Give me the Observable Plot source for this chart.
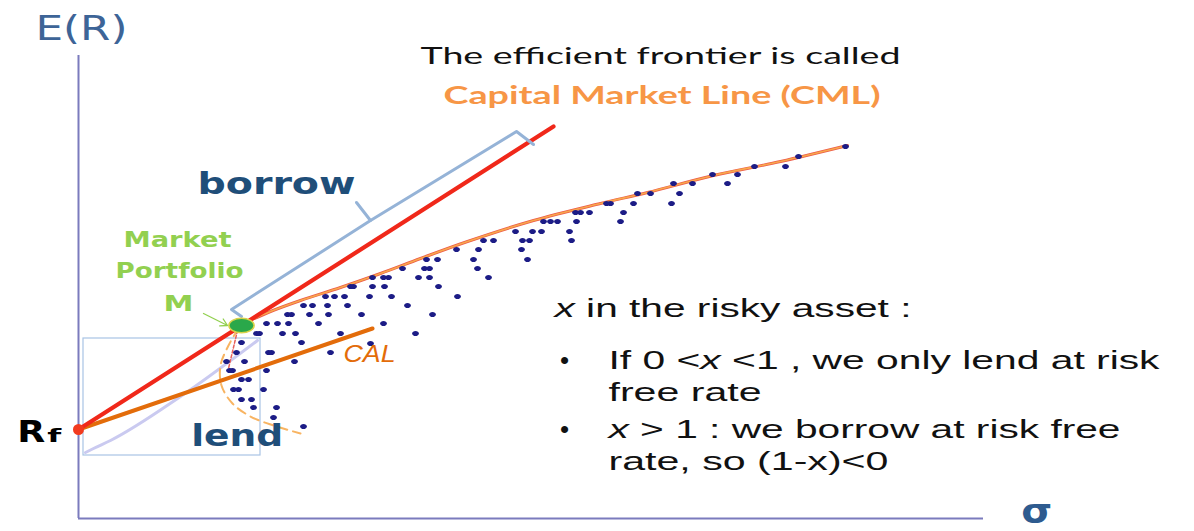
<!DOCTYPE html>
<html><head><meta charset="utf-8">
<script src="https://cdn.jsdelivr.net/npm/d3@7"></script>
<script src="https://cdn.jsdelivr.net/npm/@observablehq/plot@0.6"></script>
<style>html,body{margin:0;padding:0;background:#fff;}#chart{width:1194px;height:531px;overflow:hidden}</style>
</head><body><div id="chart"></div>
<script>
// ---- data (sigma = risk, ret = expected return) ----
const riskFree = 8.9;
const marketSigma = [16.3];
const marketReturn = [19.3];

const portfolioSigma = [16.3,15.8,14.8,16.6,15.1,15.4,16.3,17.0,15.5,16.0,18.5,16.3,17.3,17.5,19.8,19.5,22.5,19.0,19.3,21.6,18.8,17.8,18.1,20.4,21.7,22.3,18.8,19.9,21.0,24.0,20.9,21.3,23.1,22.5,23.4,
32.4,29.4,30.5,31.0,34.0,27.2,27.5,29.4,30.6,24.7,25.6,26.6,29.1,31.3,24.9,26.9,32.9,25.0,28.3,30.5,26.2,33.7,29.2,25.2,36.0,37.9,35.4,35.1,41.0,34.8,35.9,39.5,44.9,34.6,35.1,39.9,37.8,40.0,44.3,40.5,41.5,44.4,45.1,49.3,43.7,45.4,46.3,49.1,46.5,47.2,47.9,49.8,49.7,50.2,51.1,
76.7,72.0,70.7,67.6,65.9,63.4,64.9,61.4,59.5,60.1,59.3,57.2,55.9,55.5,54.5,54.2,53.2,52.8];
const portfolioReturn = [17.6,16.6,15.7,15.7,14.8,14.8,13.9,13.9,12.9,12.9,12.9,11.9,11.9,11.1,11.1,10.1,9.2,16.6,16.6,15.7,14.8,18.5,18.5,18.5,18.5,17.6,19.5,19.5,19.5,19.5,20.4,20.4,20.4,21.3,21.3,
25.0,24.1,24.1,24.1,24.1,23.2,23.2,23.2,23.2,22.2,22.2,22.2,22.2,22.2,21.3,21.3,21.3,20.4,20.4,19.5,18.5,18.5,17.5,16.6,23.2,22.2,20.4,24.1,24.1,25.9,25.9,25.9,25.9,25.0,25.0,25.0,26.9,26.9,26.9,27.8,27.8,27.8,27.8,27.8,28.7,28.7,28.7,28.7,29.7,29.7,29.7,29.7,30.6,30.6,30.6,
37.2,36.2,35.2,35.2,34.4,34.4,33.5,33.5,33.5,32.5,31.5,32.5,32.5,31.5,30.6,29.7,31.5,31.5];

const frontierSigma = [16.7,19.2,22.2,26.2,30.2,34.2,38.9,45.5,52.2,56.9,63.5,70.2,76.9];
const frontierReturn = [19.6,20.7,21.8,23.1,24.5,26.0,27.7,29.8,31.5,32.6,34.3,35.7,37.3];
const lowerSigma = [16.0,15.0,14.2,14.3,15.4,17.2,19.5,22.2];
const lowerReturn = [19.0,17.3,15.3,13.3,11.5,10.2,9.3,8.5];
const innerSigma = [15.9,15.0];
const innerReturn = [18.8,15.0];

const cmlSigma = [0, 47.5];
const cmlReturn = [8.9, 39.2];
const calSigma = [0, 29.4];
const calReturn = [8.9, 19.0];
const paleSigma = [0.7,1.5,3.2,10.2,17.9];
const paleReturn = [6.6,7.0,7.8,12.2,17.8];

const lendBox = [{x1: 0.5, x2: 18.2, y1: 6.3, y2: 18.0}];
const braceSigma = [16.3,15.3,29.2,27.8, 29.2,43.8,45.5];
const braceReturn = [20.2,20.9,29.8,31.6, 29.8,38.7,37.4];
const bracePart = ["a","a","a","a","b","b","b"];
const arrowFrom = [12.5, 20.5];
const arrowTo = [14.9, 19.3];
const axisTop = 46.3;
const axisRight = 90.5;

// ---- annotations ----
const axisTitleY = [{text: "E(R)", x: -4.3, y: 47.85}];
const axisTitleX = [{text: "σ", x: 94.27, y: -0.4}];
const headline1 = [{text: "The efficient frontier is called", x: 58.2, y: 45.47}];
const headline2 = [{text: "Capital Market Line (CML)", x: 58.35, y: 41.47}];
const regionLabels = [{text: "borrow", x: 11.9, y: 32.47}, {text: "lend", x: 11.27, y: 7.3}];
const marketLabels = [{text: "Market", x: 9.9, y: 27.13}, {text: "Portfolio", x: 10.1, y: 24.07}, {text: "M", x: 10.0, y: 20.8}];
const calLabel = [{text: "CAL", x: 26.5, y: 15.63}];
const rfMain = [{text: "R", x: -6.13, y: 7.63}];
const rfSub = [{text: "f", x: -3.13, y: 7.63}];
const notes = [
  {text: "*x* in the risky asset :", x: 47.6, y: 20.2},
  {text: "If 0 <*x* <1 , we only lend at risk", x: 53.0, y: 15.0},
  {text: "free rate", x: 53.0, y: 11.8},
  {text: "*x* > 1 : we borrow at risk free", x: 53.0, y: 8.1},
  {text: "rate, so (1-x)<0", x: 53.0, y: 4.9}
];
const bullets = [{text: "•", x: 48.6, y: 15.0}, {text: "•", x: 48.6, y: 8.1}];

const textWidths = {
  "E(R)": 92, "σ": 31, "The efficient frontier is called": 480, "Capital Market Line (CML)": 437,
  "borrow": 158, "lend": 92, "Market": 108, "Portfolio": 128, "M": 30, "CAL": 52, "R": 28, "f": 14,
  "*x* in the risky asset :": 357, "If 0 <*x* <1 , we only lend at risk": 551, "free rate": 153,
  "*x* > 1 : we borrow at risk free": 512, "rate, so (1-x)<0": 280
};

// ---- helpers ----
const pts = (xs, ys) => xs.map((x, i) => ({x, y: ys[i]}));
function ellipse(f) {
  return {draw(ctx, size) {
    const r = Math.sqrt(size / Math.PI), rx = r * f, ry = r, k = 0.5523;
    ctx.moveTo(rx, 0);
    ctx.bezierCurveTo(rx, ry * k, rx * k, ry, 0, ry);
    ctx.bezierCurveTo(-rx * k, ry, -rx, ry * k, -rx, 0);
    ctx.bezierCurveTo(-rx, -ry * k, -rx * k, -ry, 0, -ry);
    ctx.bezierCurveTo(rx * k, -ry, rx, -ry * k, rx, 0);
    ctx.closePath();
  }};
}
const txt = (rows, o) => Plot.text(rows, {x: "x", y: "y", text: "text", lineAnchor: "bottom", textAnchor: "start", ...o});

const chart = Plot.plot({
  width: 1194, height: 531, margin: 0,
  x: {domain: [-7.8, 111.6], axis: null},
  y: {domain: [-1.3, 51.8], axis: null},
  style: {background: "#fff", overflow: "visible"},
  marks: [
    Plot.ruleX([0], {y1: 0, y2: axisTop, stroke: "#7b7bbd", strokeWidth: 2}),
    Plot.ruleY([0], {x1: 0, x2: axisRight, stroke: "#7b7bbd", strokeWidth: 2}),
    Plot.rect(lendBox, {x1: "x1", x2: "x2", y1: "y1", y2: "y2", fill: "none", stroke: "#a8c4e4", strokeWidth: 1.2}),
    Plot.line(pts(paleSigma, paleReturn), {x: "x", y: "y", stroke: "#cacaf0", strokeWidth: 3, curve: "monotone-x"}),
    Plot.line(pts(lowerSigma, lowerReturn), {x: "x", y: "y", stroke: "#f8b462", strokeWidth: 2, strokeDasharray: "9,6", curve: "catmull-rom"}),
    Plot.line(pts(innerSigma, innerReturn), {x: "x", y: "y", stroke: "#e8605a", strokeWidth: 1.5, strokeDasharray: "3,2"}),
    Plot.line(pts(frontierSigma, frontierReturn), {x: "x", y: "y", stroke: "#ec5a48", strokeWidth: 3, curve: "catmull-rom"}),
    Plot.line(pts(frontierSigma, frontierReturn), {x: "x", y: "y", stroke: "#f8a84c", strokeWidth: 1.6, curve: "catmull-rom"}),
    Plot.dot(pts(portfolioSigma, portfolioReturn), {x: "x", y: "y", r: 2.6, symbol: ellipse(1.3), fill: "#1c1c86", stroke: "none"}),
    Plot.line(pts(calSigma, calReturn), {x: "x", y: "y", stroke: "#e36c0a", strokeWidth: 4}),
    Plot.line(pts(cmlSigma, cmlReturn), {x: "x", y: "y", stroke: "#f0281a", strokeWidth: 4.2}),
    Plot.line(braceSigma.map((x, i) => ({x, y: braceReturn[i], z: bracePart[i]})), {x: "x", y: "y", z: "z", stroke: "#95b3d7", strokeWidth: 3, strokeLinejoin: "round"}),
    Plot.arrow([{x1: arrowFrom[0], y1: arrowFrom[1], x2: arrowTo[0], y2: arrowTo[1]}], {x1: "x1", y1: "y1", x2: "x2", y2: "y2", stroke: "#92d050", strokeWidth: 1.3, headLength: 9}),
    Plot.dot(pts(marketSigma, marketReturn), {x: "x", y: "y", r: 7.2, symbol: ellipse(1.75), fill: "#2aa84a", stroke: "#d8d24a", strokeWidth: 1.5}),
    Plot.dot([{x: 0, y: riskFree}], {x: "x", y: "y", r: 5.5, fill: "#f23a1e"}),
    txt(axisTitleY, {fontFamily: "DejaVu Sans", fontSize: 34, fill: "#3d6497"}),
    txt(axisTitleX, {fontFamily: "DejaVu Sans", fontSize: 34, fontWeight: "bold", fill: "#2e5b8f"}),
    txt(headline1, {textAnchor: "middle", fontFamily: "Lato", fontSize: 23, fill: "#111"}),
    txt(headline2, {textAnchor: "middle", fontFamily: "Lato", fontSize: 24, fontWeight: "bold", fill: "#f79646"}),
    txt(regionLabels, {fontFamily: "DejaVu Sans", fontSize: 31, fontWeight: "bold", fill: "#1f4e79"}),
    txt(marketLabels, {textAnchor: "middle", fontFamily: "DejaVu Sans", fontSize: 21, fontWeight: "bold", fill: "#92d050"}),
    txt(calLabel, {fontFamily: "Liberation Sans", fontSize: 23, fontStyle: "italic", fill: "#e36c09"}),
    txt(rfMain, {fontFamily: "DejaVu Sans", fontSize: 31, fontWeight: "bold", fill: "#000"}),
    txt(rfSub, {fontFamily: "DejaVu Sans", fontSize: 18, fontWeight: "bold", fill: "#000"}),
    txt(notes, {fontFamily: "Liberation Sans", fontSize: 26, fill: "#111"}),
    txt(bullets, {textAnchor: "middle", fontFamily: "Liberation Sans", fontSize: 26, fill: "#111"})
  ]
});

d3.select(chart).selectAll("text").each(function() {
  const raw = this.textContent;
  const w = textWidths[raw];
  if (raw.includes("*") && raw.length > 1) {
    const parts = raw.split("*");
    this.textContent = "";
    this.style.whiteSpace = "pre";
    parts.forEach((p, i) => {
      if (!p) return;
      const t = document.createElementNS("http://www.w3.org/2000/svg", "tspan");
      t.textContent = p;
      if (i % 2 === 1) t.setAttribute("font-style", "italic");
      this.appendChild(t);
    });
  }
  if (w) {
    this.setAttribute("textLength", w);
    this.setAttribute("lengthAdjust", "spacingAndGlyphs");
  }
});
document.getElementById("chart").appendChild(chart);
</script>
</body></html>
